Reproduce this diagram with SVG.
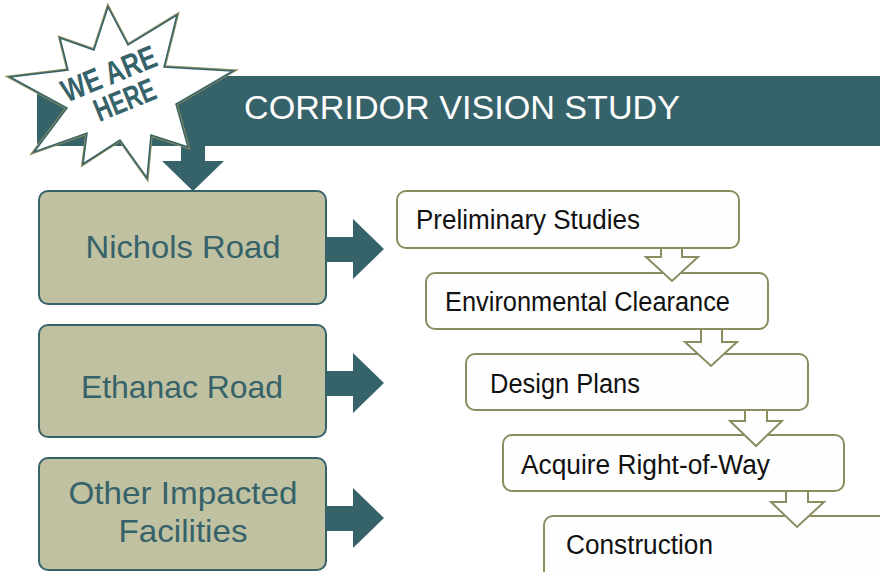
<svg xmlns="http://www.w3.org/2000/svg" width="880" height="572" viewBox="0 0 880 572">
  <style>
    .teal { fill: #36626a; }
    .facility rect { fill: #c0c1a1; stroke: #36626a; stroke-width: 2; }
    .facility text { fill: #36626a; font-family: "Liberation Sans", Arial, sans-serif; font-size: 32px; text-anchor: middle; }
    .step rect { fill: #fefefe; stroke: #8b8c5f; stroke-width: 2; }
    .step text { fill: #111; font-family: "Liberation Sans", Arial, sans-serif; font-size: 27px; }
    .flow { fill: #fefefe; stroke: #8b8c5f; stroke-width: 2; stroke-linejoin: miter; }
  </style>

  <!-- Banner -->
  <g id="banner">
    <rect x="37" y="76" width="850" height="70" rx="4" class="teal"/>
    <text x="244" y="119" fill="#ffffff" font-family="Liberation Sans, Arial, sans-serif" font-size="33" textLength="436" lengthAdjust="spacingAndGlyphs">CORRIDOR VISION STUDY</text>
  </g>

  <!-- Left column: facilities -->
  <g id="nichols" class="facility">
    <rect x="39" y="191" width="287" height="113" rx="9"/>
    <text x="183" y="258" textLength="195" lengthAdjust="spacingAndGlyphs">Nichols Road</text>
  </g>
  <g id="ethanac" class="facility">
    <rect x="39" y="325" width="287" height="112" rx="9"/>
    <text x="182" y="398" textLength="202" lengthAdjust="spacingAndGlyphs">Ethanac Road</text>
  </g>
  <g id="other" class="facility">
    <rect x="39" y="458" width="287" height="112" rx="9"/>
    <text x="183" y="504" textLength="229" lengthAdjust="spacingAndGlyphs">Other Impacted</text>
    <text x="183" y="542" textLength="129" lengthAdjust="spacingAndGlyphs">Facilities</text>
  </g>

  <!-- Right column: project steps -->
  <g id="preliminary" class="step">
    <rect x="397" y="191" width="342" height="57" rx="9"/>
    <text x="416" y="229" textLength="224" lengthAdjust="spacingAndGlyphs">Preliminary Studies</text>
  </g>
  <g id="environmental" class="step">
    <rect x="426" y="273" width="342" height="56" rx="9"/>
    <text x="445" y="311" textLength="285" lengthAdjust="spacingAndGlyphs">Environmental Clearance</text>
  </g>
  <g id="design" class="step">
    <rect x="466" y="354" width="342" height="56" rx="9"/>
    <text x="490" y="393" textLength="150" lengthAdjust="spacingAndGlyphs">Design Plans</text>
  </g>
  <g id="acquire" class="step">
    <rect x="503" y="435" width="341" height="56" rx="9"/>
    <text x="521" y="474" textLength="249" lengthAdjust="spacingAndGlyphs">Acquire Right-of-Way</text>
  </g>
  <g id="construction" class="step">
    <rect x="544" y="516" width="350" height="70" rx="9"/>
    <text x="566" y="554" textLength="147" lengthAdjust="spacingAndGlyphs">Construction</text>
  </g>

  <!-- Connectors -->
  <g id="connectors">
    <!-- banner down to Nichols Road -->
    <polygon class="teal" points="181,145 205,145 205,161 224,161 193,191 162,161 181,161"/>
    <!-- facilities to steps -->
    <polygon class="teal" points="326,237 353,237 353,219 384,249 353,279 353,262 326,262"/>
    <polygon class="teal" points="326,371 353,371 353,353 384,383 353,413 353,396 326,396"/>
    <polygon class="teal" points="326,506 353,506 353,488 384,518 353,548 353,531 326,531"/>
    <!-- step to step -->
    <polygon class="flow" points="661,248 682,248 682,257 698,257 672,281 646,257 661,257"/>
    <polygon class="flow" points="701,329 722,329 722,342 737,342 711,366 685,342 701,342"/>
    <polygon class="flow" points="745,410 767,410 767,421 782,421 756,446 730,421 745,421"/>
    <polygon class="flow" points="786,491 808,491 808,502 824,502 797,527 771,502 786,502"/>
  </g>

  <!-- Starburst badge -->
  <g id="we-are-here">
    <path d="M108,7 L128,45 L177,15 L164,67 L233,71 L176,104 L188,147 L151,135 L147,178 L120,140 L83,164 L87,133 L34,152 L67,108 L10,77 L68,70 L60,38 L94,50 Z" fill="#ffffff" stroke="#8b8c5f" stroke-width="3.5" stroke-linejoin="miter"/>
    <path d="M108,7 L128,45 L177,15 L164,67 L233,71 L176,104 L188,147 L151,135 L147,178 L120,140 L83,164 L87,133 L34,152 L67,108 L10,77 L68,70 L60,38 L94,50 Z" fill="#ffffff" stroke="#36626a" stroke-width="1.5" stroke-linejoin="miter"/>
    <g transform="translate(116,86) rotate(-22)" fill="#36626a" font-family="Liberation Sans, Arial, sans-serif" font-weight="bold" font-size="32" text-anchor="middle">
      <text x="-2" y="-3" textLength="100" lengthAdjust="spacingAndGlyphs">WE ARE</text>
      <text x="3" y="27" textLength="64" lengthAdjust="spacingAndGlyphs">HERE</text>
    </g>
  </g>
</svg>
